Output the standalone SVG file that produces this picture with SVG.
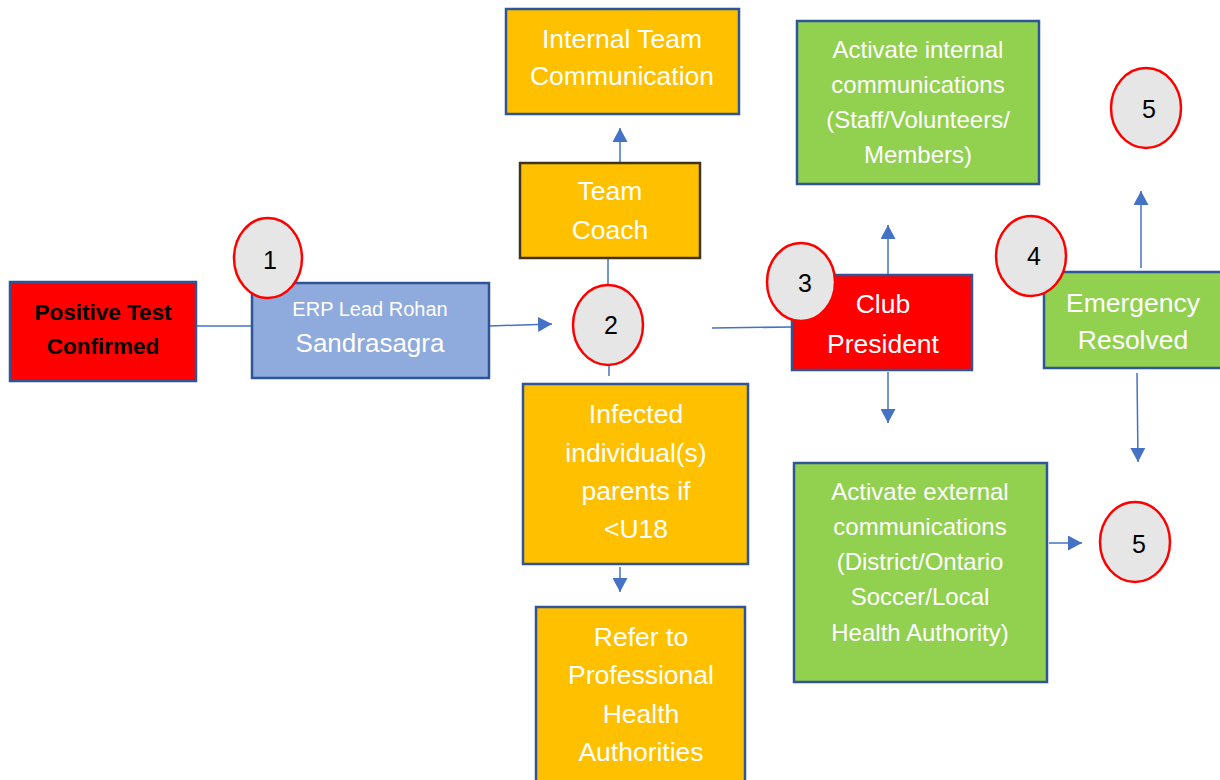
<svg xmlns="http://www.w3.org/2000/svg" width="1220" height="780" viewBox="0 0 1220 780">
<style>
.box{stroke:#2F5597;stroke-width:2.5}
.red{fill:#FF0000}
.blue{fill:#8FAADC}
.org{fill:#FFC000}
.grn{fill:#92D050}
.t{font-family:"Liberation Sans",Arial,sans-serif;fill:#FFFFFF;text-anchor:middle}
.big{font-size:26.5px}
.med{font-size:24px}
.num{font-family:"Liberation Sans",Arial,sans-serif;font-size:25px;fill:#000;text-anchor:middle}
.circ{fill:#E7E6E6;stroke:#FF0000;stroke-width:2.5}
.c{stroke:#4472C4;stroke-width:1.5;fill:none}
</style>
<defs>
<marker id="ah2" viewBox="0 0 14 15" refX="14" refY="7.5" markerWidth="14" markerHeight="15" markerUnits="userSpaceOnUse" orient="auto">
<path d="M0,0 L14,7.5 L0,15 z" fill="#4472C4"/>
</marker>
</defs>
<rect width="1220" height="780" fill="#FFFFFF"/>
<g id="connectors">
<line class="c" x1="196" y1="326" x2="252" y2="326"/>
<line class="c" x1="489" y1="326" x2="552" y2="324" marker-end="url(#ah2)"/>
<line class="c" x1="608" y1="258" x2="608" y2="285"/>
<line class="c" x1="609" y1="366" x2="609" y2="376"/>
<line class="c" x1="712" y1="328" x2="792" y2="327"/>
<line class="c" x1="620" y1="163" x2="620" y2="128" marker-end="url(#ah2)"/>
<line class="c" x1="888" y1="275" x2="888" y2="225" marker-end="url(#ah2)"/>
<line class="c" x1="888" y1="372" x2="888" y2="423" marker-end="url(#ah2)"/>
<line class="c" x1="620" y1="567" x2="620" y2="592" marker-end="url(#ah2)"/>
<line class="c" x1="1141" y1="268" x2="1141" y2="191" marker-end="url(#ah2)"/>
<line class="c" x1="1137" y1="373" x2="1138" y2="462" marker-end="url(#ah2)"/>
<line class="c" x1="1049" y1="543" x2="1082" y2="543" marker-end="url(#ah2)"/>
</g>
<g id="positive-test">
<rect class="box red" x="10" y="282" width="186" height="99"/>
<text x="103" y="320" font-family="Liberation Sans,Arial,sans-serif" font-weight="bold" font-size="22.5" text-anchor="middle" fill="#000">Positive Test</text>
<text x="103" y="354" font-family="Liberation Sans,Arial,sans-serif" font-weight="bold" font-size="22.5" text-anchor="middle" fill="#000">Confirmed</text>
</g>
<g id="erp-lead">
<rect class="box blue" x="252" y="283" width="237" height="95"/>
<text class="t" x="370" y="316" font-size="20">ERP Lead Rohan</text>
<text class="t" x="370" y="352" font-size="26">Sandrasagra</text>
</g>
<g id="internal-team">
<rect class="box org" x="506" y="9" width="233" height="105"/>
<text class="t big" x="622" y="48">Internal Team</text>
<text class="t big" x="622" y="85">Communication</text>
</g>
<g id="team-coach">
<rect class="org" x="520" y="163" width="180" height="95" stroke="#3F3420" stroke-width="2.5"/>
<text class="t big" x="610" y="200">Team</text>
<text class="t big" x="610" y="239">Coach</text>
</g>
<g id="infected">
<rect class="box org" x="523" y="384" width="225" height="180" stroke="#4A6FAF"/>
<text class="t big" x="636" y="423">Infected</text>
<text class="t big" x="636" y="462">individual(s)</text>
<text class="t big" x="636" y="500">parents if</text>
<text class="t big" x="636" y="538">&lt;U18</text>
</g>
<g id="refer">
<rect class="box org" x="536" y="607" width="209" height="180"/>
<text class="t big" x="641" y="646">Refer to</text>
<text class="t big" x="641" y="684">Professional</text>
<text class="t big" x="641" y="723">Health</text>
<text class="t big" x="641" y="761">Authorities</text>
</g>
<g id="activate-internal">
<rect class="box grn" x="797" y="21" width="242" height="163"/>
<text class="t med" x="918" y="58">Activate internal</text>
<text class="t med" x="918" y="93">communications</text>
<text class="t med" x="918" y="128">(Staff/Volunteers/</text>
<text class="t med" x="918" y="163">Members)</text>
</g>
<g id="club-president">
<rect class="box red" x="792" y="275" width="180" height="95"/>
<text class="t big" x="883" y="313">Club</text>
<text class="t big" x="883" y="353">President</text>
</g>
<g id="emergency-resolved">
<rect class="box grn" x="1044" y="272" width="190" height="96"/>
<text class="t big" x="1133" y="312">Emergency</text>
<text class="t big" x="1133" y="349">Resolved</text>
</g>
<g id="activate-external">
<rect class="box grn" x="794" y="463" width="253" height="219"/>
<text class="t med" x="920" y="500">Activate external</text>
<text class="t med" x="920" y="535">communications</text>
<text class="t med" x="920" y="570">(District/Ontario</text>
<text class="t med" x="920" y="605">Soccer/Local</text>
<text class="t med" x="920" y="641">Health Authority)</text>
</g>
<g id="step-1">
<ellipse class="circ" cx="268" cy="258" rx="34" ry="40"/>
<text class="num" x="270" y="269">1</text>
</g>
<g id="step-2">
<ellipse class="circ" cx="608" cy="325" rx="35" ry="40"/>
<text class="num" x="611" y="334">2</text>
</g>
<g id="step-3">
<ellipse class="circ" cx="801" cy="282" rx="34" ry="39"/>
<text class="num" x="805" y="292">3</text>
</g>
<g id="step-4">
<ellipse class="circ" cx="1031" cy="256" rx="35" ry="40"/>
<text class="num" x="1034" y="265">4</text>
</g>
<g id="step-5-top">
<ellipse class="circ" cx="1146" cy="108" rx="35" ry="40"/>
<text class="num" x="1149" y="118">5</text>
</g>
<g id="step-5-bottom">
<ellipse class="circ" cx="1135" cy="542" rx="35" ry="40"/>
<text class="num" x="1139" y="553">5</text>
</g>
</svg>
